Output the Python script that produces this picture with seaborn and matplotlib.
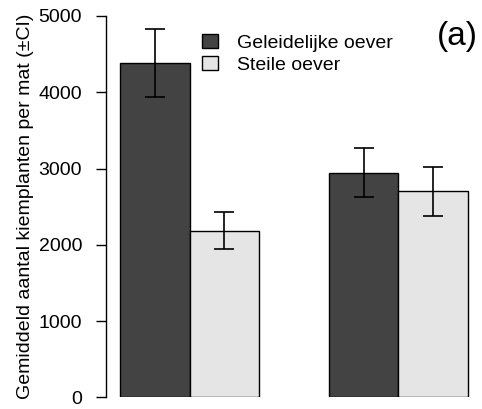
import matplotlib
matplotlib.use("Agg")
import matplotlib.pyplot as plt
import seaborn as sns
import pandas as pd
import numpy as np

groups = ["A", "B"]
series = ["Geleidelijke oever", "Steile oever"]
means_gradual = [4390, 2945]
means_steep = [2185, 2705]
ci_low_gradual = [3935, 2625]
ci_high_gradual = [4830, 3265]
ci_low_steep = [1945, 2380]
ci_high_steep = [2425, 3020]
yticks = [0, 1000, 2000, 3000, 4000, 5000]

sns.set_style("white")
plt.rcParams['font.family'] = ['Liberation Sans', 'DejaVu Sans']
plt.rcParams['text.color'] = 'black'
plt.rcParams['axes.labelcolor'] = 'black'
plt.rcParams['ytick.color'] = 'black'

df = pd.DataFrame({
    "group": groups * 2,
    "series": [series[0]] * 2 + [series[1]] * 2,
    "value": means_gradual + means_steep,
    "lo": ci_low_gradual + ci_low_steep,
    "hi": ci_high_gradual + ci_high_steep,
})

fig = plt.figure(figsize=(4.82, 4.09), dpi=100)
ax = fig.add_axes([106/482, 1 - 397.3/409, 376/482, (397.3 - 16)/409])

palette = {series[0]: "#434343", series[1]: "#e5e5e5"}
sns.barplot(data=df, x="group", y="value", hue="series", order=groups,
            hue_order=series, palette=palette, width=2/3, errorbar=None,
            edgecolor="black", linewidth=1.0, saturation=1, ax=ax)

# error bars at bar centres
for cont, s in zip(ax.containers, series):
    sub = df[df["series"] == s].set_index("group").loc[groups]
    xs = [p.get_x() + p.get_width() / 2 for p in cont.patches]
    vals = sub["value"].values
    ax.errorbar(xs, vals, yerr=[vals - sub["lo"].values, sub["hi"].values - vals],
                fmt="none", ecolor="black", elinewidth=1.2, capsize=7.5, capthick=1.2)

ax.set_xlim(-0.4, 1.4)
ax.set_ylim(0, 5000)
ax.set_yticks(yticks)
ax.set_yticklabels([str(t) for t in yticks], fontsize=14)
ax.tick_params(axis="y", direction="out", length=7.2, width=1, pad=10, left=True,
               colors="black")
ax.set_xticks([])
ax.set_xlabel("")
ax.set_ylabel("Gemiddeld aantal kiemplanten per mat (±CI)", fontsize=14, labelpad=3)
for side in ["top", "right", "bottom"]:
    ax.spines[side].set_visible(False)
ax.spines["left"].set_linewidth(1)
ax.spines["left"].set_color("black")

leg = ax.legend(loc="upper left", bbox_to_anchor=(0.255, 0.952), frameon=False,
                fontsize=14, handlelength=0.82, handleheight=0.7,
                handletextpad=1.0, labelspacing=0.22, borderaxespad=0.0, borderpad=0.0)

ax.text((478 - 106) / 376, 1 - (36 - 16) / 381.3, "(a)", transform=ax.transAxes,
        ha="right", va="center", fontsize=24)

fig.savefig("out.png", dpi=100)
